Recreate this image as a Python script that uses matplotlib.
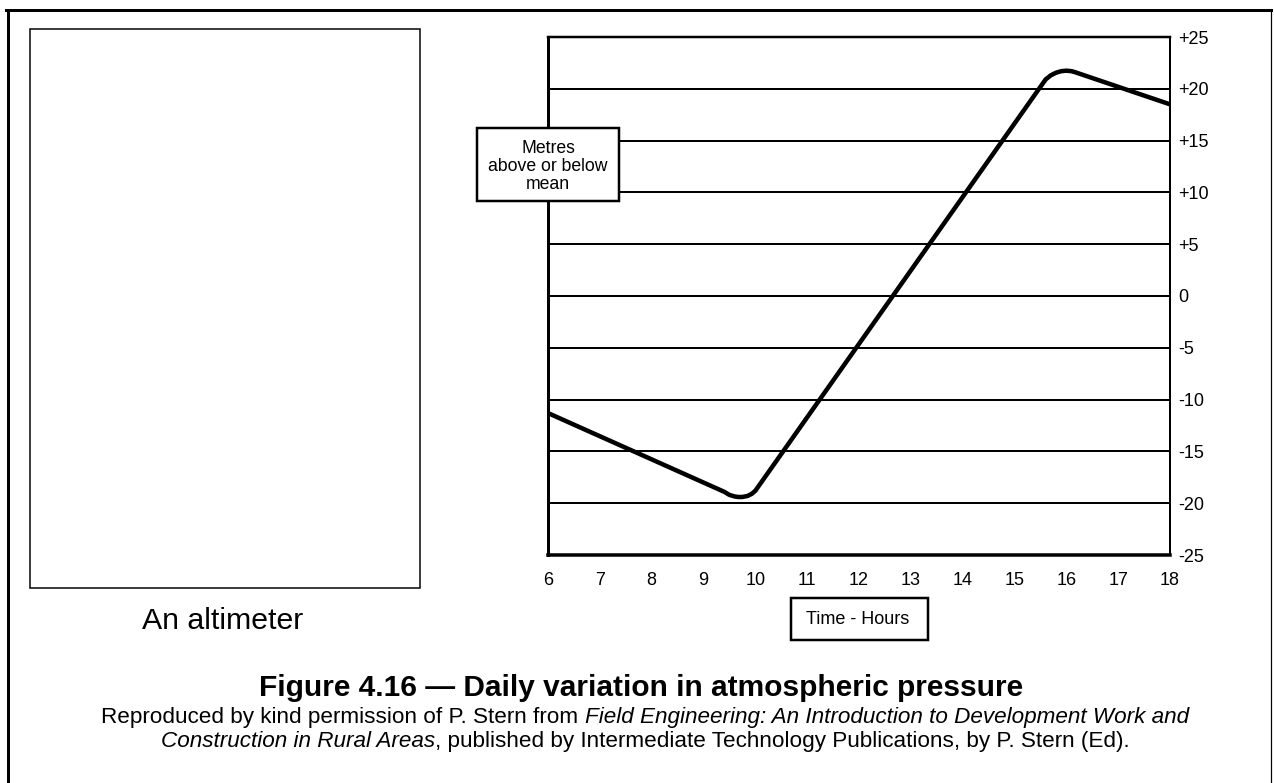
import matplotlib
matplotlib.use('Agg')
import matplotlib.pyplot as plt
from matplotlib.patches import Rectangle
from matplotlib.lines import Line2D

plt.rcParams['font.family'] = ['Liberation Sans', 'DejaVu Sans']

# data (hours, metres above/below mean)
hours = [6.0, 9.4, 9.5, 9.6, 9.67, 9.75, 9.85, 9.93, 10.0,
         15.6, 15.7, 15.8, 15.9, 16.0, 16.1, 16.17, 18.0]
metres = [-11.3, -18.9, -19.2, -19.35, -19.4, -19.4, -19.3, -19.1, -18.8,
          20.9, 21.3, 21.55, 21.7, 21.75, 21.7, 21.6, 18.5]

x_ticks = list(range(6, 19))
y_ticks = [25, 20, 15, 10, 5, 0, -5, -10, -15, -20, -25]
y_tick_labels = ['+25', '+20', '+15', '+10', '+5', '0', '-5', '-10', '-15', '-20', '-25']

title = 'Figure 4.16 \u2014 Daily variation in atmospheric pressure'
caption = [
    [('Reproduced by kind permission of P. Stern from ', 'normal'),
     ('Field Engineering: An Introduction to Development Work and', 'italic')],
    [('Construction in Rural Areas', 'italic'),
     (', published by Intermediate Technology Publications, by P. Stern (Ed).', 'normal')],
]

W, H = 1274, 783
fig = plt.figure(figsize=(W / 100, H / 100), dpi=100)
PX = 72 / 100  # points per pixel


def fx(x):
    return x / W


def fy(y):
    return 1 - y / H


# outer frame (open at the bottom)
fig.add_artist(Line2D([fx(6.5), fx(1271)], [fy(9.5), fy(9.5)], lw=3 * PX, color='black'))
fig.add_artist(Line2D([fx(8), fx(8)], [fy(9.5), fy(790)], lw=3 * PX, color='black'))
fig.add_artist(Line2D([fx(1271), fx(1271)], [fy(9.5), fy(790)], lw=1.2 * PX, color='black'))

# empty altimeter picture box
fig.add_artist(Rectangle((fx(30), fy(588)), fx(420) - fx(30), fy(29) - fy(588),
                         fill=False, lw=1.5 * PX, edgecolor='black'))
fig.text(fx(223), fy(629), 'An altimeter', fontsize=21.8, ha='center', va='baseline')

# chart
ax = fig.add_axes([fx(548), fy(555), fx(1170) - fx(548), fy(37) - fy(555)])
for yv in y_ticks[1:-1]:
    ax.axhline(yv, color='black', lw=2 * PX, zorder=1)
ax.plot(hours, metres, color='black', lw=4.5 * PX, solid_joinstyle='round',
        solid_capstyle='butt', zorder=3)
ax.set_xlim(6, 18)
ax.set_ylim(-25, 25)
ax.set_xticks(x_ticks)
ax.set_xticklabels([str(h) for h in x_ticks])
ax.yaxis.tick_right()
ax.set_yticks(y_ticks)
ax.set_yticklabels(y_tick_labels)
ax.tick_params(axis='x', length=0, pad=12, labelsize=13)
ax.tick_params(axis='y', length=0, pad=6, labelsize=13)
ax.spines['left'].set_linewidth(3 * PX)
ax.spines['bottom'].set_linewidth(3.5 * PX)
ax.spines['top'].set_linewidth(2.5 * PX)
ax.spines['right'].set_linewidth(2 * PX)

# axis label boxes
fig.add_artist(Rectangle((fx(477), fy(201)), fx(619) - fx(477), fy(128) - fy(201),
                         facecolor='white', lw=2.5 * PX, edgecolor='black', zorder=5))
fig.text(fx(548), fy(166.5), 'Metres\nabove or below\nmean', fontsize=12.7,
         ha='center', va='center', linespacing=1.1, zorder=6)

fig.add_artist(Rectangle((fx(791), fy(640)), fx(928) - fx(791), fy(598) - fy(640),
                         facecolor='white', lw=2.5 * PX, edgecolor='black', zorder=5))
fig.text(fx(858), fy(619), 'Time - Hours', fontsize=13, ha='center', va='center', zorder=6)

# title and caption
fig.text(fx(641), fy(696), title, fontsize=21.5, fontweight='bold', ha='center', va='baseline')

renderer = fig.canvas.get_renderer()
for i, parts in enumerate(caption):
    y = fy(723 + 24 * i)
    texts = [fig.text(0, y, s, fontsize=16.2, style=st, ha='left', va='baseline')
             for s, st in parts]
    widths = [t.get_window_extent(renderer).width for t in texts]
    x = 645 - sum(widths) / 2
    for t, w in zip(texts, widths):
        t.set_x(fx(x))
        x += w

fig.savefig('out.png', dpi=100)
